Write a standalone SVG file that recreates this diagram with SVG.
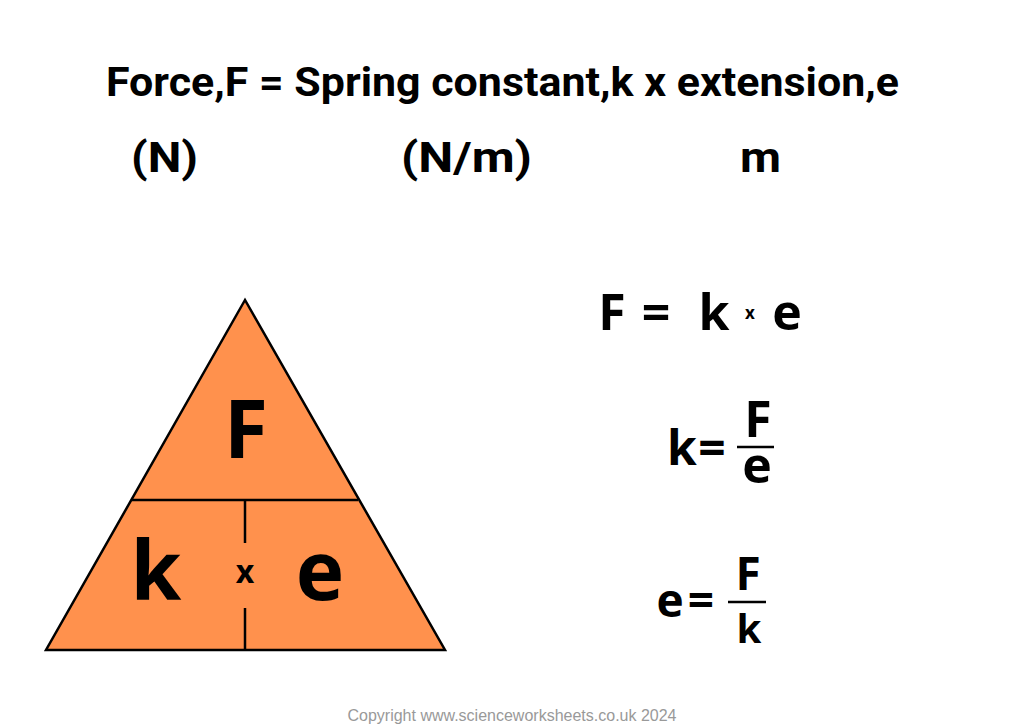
<svg xmlns="http://www.w3.org/2000/svg" width="1024" height="724" viewBox="0 0 1024 724">
<style>
.t{font-family:"Open Sans","Liberation Sans",sans-serif;font-weight:bold;fill:#000}
.h{font-family:"Roboto","Liberation Sans",sans-serif;font-weight:bold;fill:#000}
.ln{stroke:#000;stroke-width:2.5;fill:none}
</style>
<rect width="1024" height="724" fill="#fff"/>
<g id="title">
<text class="h" x="106" y="96" font-size="40" textLength="793" lengthAdjust="spacingAndGlyphs">Force,F = Spring constant,k x extension,e</text>
</g>
<g id="units">
<text class="h" x="131" y="172" font-size="42" textLength="67" lengthAdjust="spacingAndGlyphs">(N)</text>
<text class="h" x="401" y="172" font-size="42" textLength="131" lengthAdjust="spacingAndGlyphs">(N/m)</text>
<text class="h" x="740" y="172" font-size="42" textLength="41" lengthAdjust="spacingAndGlyphs">m</text>
</g>
<g id="triangle">
<polygon points="245,300 46,650 445,650" fill="#FF914D" stroke="#000" stroke-width="2.5" stroke-linejoin="miter"/>
<line class="ln" x1="132" y1="500" x2="358" y2="500"/>
<line class="ln" x1="245" y1="500" x2="245" y2="543"/>
<line class="ln" x1="245" y1="608" x2="245" y2="650"/>
<text class="t" x="246" y="458" font-size="80" text-anchor="middle">F</text>
<text class="t" x="156" y="600" font-size="82" text-anchor="middle">k</text>
<text class="t" x="245" y="583" font-size="32" text-anchor="middle">x</text>
<text class="t" x="320" y="600" font-size="82" text-anchor="middle">e</text>
</g>
<g id="eq1">
<text class="t" x="612" y="330" font-size="50" text-anchor="middle">F</text>
<text class="t" x="656" y="330" font-size="50" text-anchor="middle">=</text>
<text class="t" x="714" y="330" font-size="50" text-anchor="middle">k</text>
<text class="t" x="750" y="319" font-size="17" text-anchor="middle">x</text>
<text class="t" x="787" y="330" font-size="50" text-anchor="middle">e</text>
</g>
<g id="eq2">
<text class="t" x="682" y="465" font-size="48" text-anchor="middle">k</text>
<text class="t" x="712" y="465" font-size="48" text-anchor="middle">=</text>
<text class="t" x="758" y="437" font-size="50" text-anchor="middle">F</text>
<line class="ln" x1="737" y1="447" x2="774" y2="447" stroke-width="3"/>
<text class="t" x="757" y="483" font-size="50" text-anchor="middle">e</text>
</g>
<g id="eq3">
<text class="t" x="670" y="617" font-size="46" text-anchor="middle">e</text>
<text class="t" x="701" y="617" font-size="46" text-anchor="middle">=</text>
<text class="t" x="748" y="590" font-size="46" text-anchor="middle">F</text>
<line class="ln" x1="728" y1="602" x2="766" y2="602" stroke-width="3"/>
<text class="t" x="749" y="643" font-size="40" text-anchor="middle">k</text>
</g>
<g id="copyright">
<text x="512" y="721" font-family="Liberation Sans, Arial, sans-serif" font-size="16" fill="#999" text-anchor="middle">Copyright www.scienceworksheets.co.uk 2024</text>
</g>
</svg>
